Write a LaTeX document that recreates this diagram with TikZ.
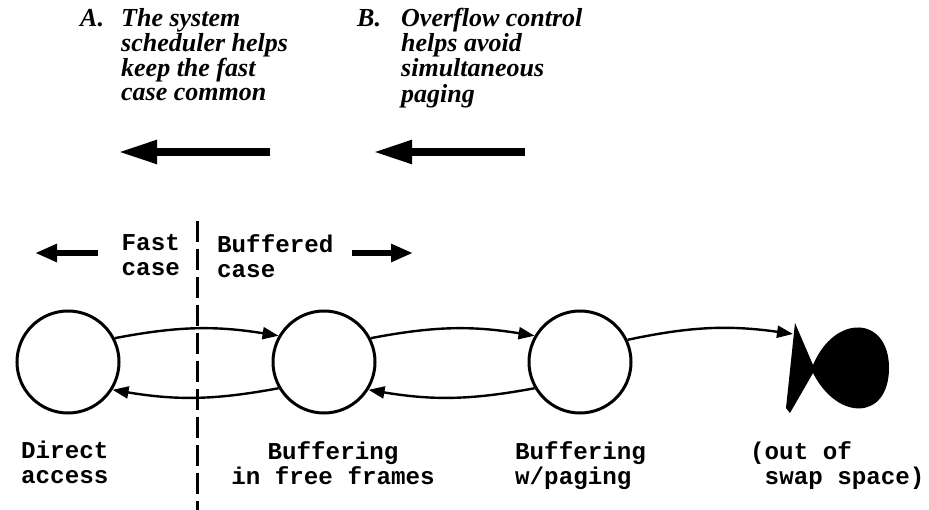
\documentclass[tikz,border=0pt]{standalone}
\usepackage{fontspec}
\setmainfont{Liberation Serif}
\setmonofont{Liberation Mono}
\usepackage{tikz}
\usetikzlibrary{arrows.meta}
\usetikzlibrary{positioning}
\tikzstyle{arrow} = [line width=2.4pt,-{Triangle[length=16pt,width=12pt]}]
\tikzstyle{bigarrow} = [line width=8pt,-{Triangle[length=39pt,width=22pt]}]
\tikzstyle{midarrow} = [line width=6pt,-{Triangle[length=22pt,width=17pt]}]
\tikzstyle{divider} = [line width=3pt, dash pattern=on 21pt off 7pt]
\tikzstyle{state} = [
    circle, draw=black, line width=3pt, minimum size=102pt, inner sep=0pt]
\tikzstyle{note} = [
    inner sep=0pt, font=\fontsize{26}{24}\selectfont\bfseries\itshape]
\tikzstyle{tt} = [
    inner sep=0pt, font=\fontsize{24.2}{25}\selectfont\ttfamily\bfseries]

\begin{document}
\begin{tikzpicture}[x=1pt, y=1pt, node distance=256pt]
\useasboundingbox (0,0) rectangle (929,-510);

% the two remarks with their arrows
\node (noteA) [note, anchor=north west] at (80,-8) {%
    \begin{tabular}{@{}p{41pt}@{}l@{}}
    A. & The system \\
       & scheduler helps \\
       & keep the fast \\
       & case common
    \end{tabular}};
\node (noteB) [note, anchor=north west] at (357,-8) {%
    \begin{tabular}{@{}p{44pt}@{}l@{}}
    B. & Overflow control \\
       & helps avoid \\
       & simultaneous \\
       & paging
    \end{tabular}};
\coordinate (aFrom) at (270,-152);
\coordinate (aTo) at (118,-152);
\coordinate (bFrom) at (525,-152);
\coordinate (bTo) at (373,-152);
\draw [bigarrow] (aFrom) -- (aTo);
\draw [bigarrow] (bFrom) -- (bTo);

% fast / buffered split
\coordinate (splitTop) at (197,-221);
\coordinate (splitBot) at (197,-512);
\draw [divider] (splitTop) -- (splitBot);
\node (fast) [tt, anchor=north east, align=right] at (180,-234) {Fast\\case};
\node (buffered) [tt, anchor=north west, align=left] at (217,-234) {Buffered\\case};
\coordinate (fastFrom) at (98,-253);
\coordinate (fastTo) at (35,-253);
\coordinate (bufFrom) at (352,-253);
\coordinate (bufTo) at (413,-253);
\draw [midarrow] (fastFrom) -- (fastTo);
\draw [midarrow] (bufFrom) -- (bufTo);

% states
\node (direct) [state] at (68,-362) {};
\node (free) [state, right of=direct] {};
\node (paging) [state, right of=free] {};
\coordinate (swap) at (793,-334);
\fill (795,-323) -- (813,-365) .. controls (835,-313) and (889,-316) .. (889,-368)
    .. controls (889,-420) and (838,-422) .. (813,-373) -- (790,-413) -- (786,-408) -- cycle;

\draw [arrow] (direct.27) to[bend left=10] (free.150);
\draw [arrow] (free.210) to[bend left=10] (direct.-32);
\draw [arrow] (free.27) to[bend left=10] (paging.150);
\draw [arrow] (paging.210) to[bend left=10] (free.-32);
\draw [arrow] (paging.25) to[out=12, in=172] (swap);

% state names
\node (directName) [tt, anchor=north west, align=left] at (21,-441) {Direct\\access};
\node (freeName) [tt, anchor=north, align=center] at (333,-441) {Buffering\\in free frames};
\node (pagingName) [tt, anchor=north west, align=left] at (515,-441) {Buffering\\w/paging};
\node (swapName) [tt, anchor=north west, align=left] at (750,-441) {(out of\\~swap space)};
\end{tikzpicture}
\end{document}
